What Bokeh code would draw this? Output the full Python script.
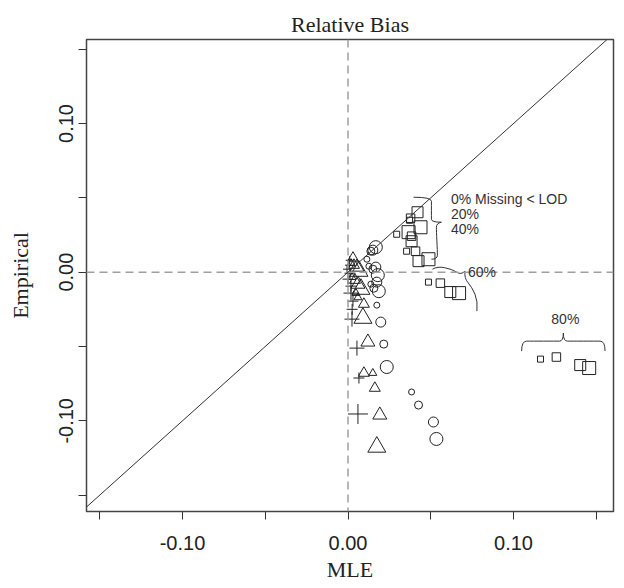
from bokeh.plotting import figure
from bokeh.models import FixedTicker, Span, Slope, Label, ColumnDataSource
from bokeh.embed import file_html
from bokeh.resources import INLINE

# ---------------- data ----------------
title_text = "Relative Bias"
x_label = "MLE"
y_label = "Empirical"

tick_values = [-0.15, -0.10, -0.05, 0.0, 0.05, 0.10, 0.15]
tick_labels = ["", "-0.10", "", "0.00", "", "0.10", ""]

# size class n = 1..4 (smallest .. largest)
sq_x = [0.0372, 0.0378, 0.0420, 0.0438, 0.0294, 0.0384, 0.0384, 0.0366,
        0.0354, 0.0408, 0.0426, 0.0486, 0.0486, 0.0558, 0.0618, 0.0671,
        0.1163, 0.1259, 0.1403, 0.1457]
sq_y = [0.0349, 0.0363, 0.0403, 0.0302, 0.0255, 0.0242, 0.0208, 0.0269,
        0.0141, 0.0141, 0.0074, 0.0087, -0.0067, -0.0074, -0.0134, -0.0141,
        -0.0585, -0.0571, -0.0625, -0.0645]
sq_n = [1, 2, 3, 4] * 5

ci_x = [0.0114, 0.0138, 0.0150, 0.0168, 0.0126, 0.0150, 0.0168, 0.0180,
        0.0138, 0.0156, 0.0174, 0.0186, 0.0174, 0.0216, 0.0198, 0.0234,
        0.0384, 0.0426, 0.0516, 0.0534]
ci_y = [0.0087, 0.0141, 0.0148, 0.0168, 0.0040, 0.0020, 0.0034, -0.0020,
        -0.0081, -0.0108, -0.0067, -0.0128, -0.0222, -0.0484, -0.0336, -0.0638,
        -0.0806, -0.0894, -0.1008, -0.1122]
ci_n = [1, 2, 3, 4] * 5

tr_x = [0.0018, 0.0036, 0.0054, 0.0066, 0.0024, 0.0042, 0.0060, 0.0078,
        0.0048, 0.0096, 0.0090, 0.0120, 0.0150, 0.0096, 0.0162, 0.0192, 0.0174,
        0.0030, 0.0060]
tr_y = [0.0060, 0.0047, 0.0034, 0.0007, -0.0034, -0.0054, -0.0081, -0.0114,
        -0.0141, -0.0215, -0.0309, -0.0470, -0.0679, -0.0679, -0.0780, -0.0961, -0.1176,
        0.0095, -0.0170]
tr_n = [1, 2, 3, 4, 1, 2, 3, 4, 1, 2, 4, 3, 1, 2, 2, 3, 4, 2, 1]

cr_x = [-0.0006, 0.0006, 0.0012, 0.0000, 0.0018, 0.0018, 0.0030, 0.0024,
        0.0054, 0.0066, 0.0060, 0.0010, 0.0025]
cr_y = [0.0020, 0.0047, -0.0007, -0.0047, -0.0094, -0.0141, -0.0195, -0.0316,
        -0.0511, -0.0712, -0.0954, 0.0080, -0.0250]
cr_n = [1, 1, 2, 2, 2, 3, 2, 3, 3, 2, 4, 1, 2]

# annotation text
group_labels = ["0% Missing < LOD", "20%", "40%"]
group_label_y = [0.0495, 0.0388, 0.0287]
group_label_x = 0.0622
label_60 = "60%"
label_60_pos = (0.0725, 0.0003)
label_80 = "80%"
label_80_pos = (0.1313, -0.0316)

# brace paths (start, control points..., end), data units
braces = [
    [(0.0396, 0.0504), (0.0504, 0.0504), (0.0504, 0.0450), (0.0504, 0.0376),
     (0.0504, 0.0336), (0.0564, 0.0336)],
    [(0.0564, 0.0336), (0.0534, 0.0329), (0.0534, 0.0276), (0.0540, 0.0141),
     (0.0540, 0.0087), (0.0504, 0.0087)],
    [(0.0510, 0.0020), (0.0540, 0.0040), (0.0629, 0.0020), (0.0683, -0.0020),
     (0.0707, 0.0007)],
    [(0.0707, 0.0007), (0.0701, -0.0040), (0.0749, -0.0101), (0.0785, -0.0195),
     (0.0779, -0.0262)],
    [(0.1049, -0.0531), (0.1049, -0.0464), (0.1109, -0.0464), (0.1253, -0.0464),
     (0.1301, -0.0464), (0.1301, -0.0410)],
    [(0.1301, -0.0410), (0.1301, -0.0464), (0.1349, -0.0464), (0.1493, -0.0464),
     (0.1553, -0.0464), (0.1553, -0.0531)],
]

# ---------------- styling ----------------
SIZES = {
    "square": [6, 8.5, 11, 13],
    "circle": [6, 8, 10, 13],
    "triangle": [8, 11, 14, 18],
    "cross": [8, 11, 15, 20],
}
INK = "#222222"
SERIF = "Liberation Serif"
SANS = "Liberation Sans"

p = figure(width=620, height=587, output_backend="svg", toolbar_location=None,
           x_range=(-0.158, 0.1604), y_range=(-0.161, 0.1565),
           min_border_left=86, min_border_right=7, min_border_top=39,
           min_border_bottom=76)
p.background_fill_color = "white"
p.border_fill_color = "white"
p.grid.visible = False
p.outline_line_color = "#444444"
p.outline_line_width = 1.5

p.title.text = title_text
p.title.align = "center"
p.title.text_font = SERIF
p.title.text_font_size = "22px"
p.title.text_font_style = "normal"
p.title.text_color = INK
p.title.standoff = 6

for ax in (p.xaxis[0], p.yaxis[0]):
    ax.ticker = FixedTicker(ticks=tick_values)
    ax.major_label_overrides = {v: s for v, s in zip(tick_values, tick_labels)}
    ax.minor_tick_line_color = None
    ax.major_tick_in = 0
    ax.major_tick_out = 8
    ax.major_tick_line_color = "#333333"
    ax.axis_line_color = None
    ax.major_label_text_font = SANS
    ax.major_label_text_font_size = "20px"
    ax.major_label_text_color = INK
    ax.axis_label_text_font = SERIF
    ax.axis_label_text_font_size = "22px"
    ax.axis_label_text_font_style = "normal"
    ax.axis_label_text_color = INK

p.xaxis.axis_label = x_label
p.yaxis.axis_label = y_label
p.yaxis.major_label_orientation = "vertical"
p.xaxis.major_label_standoff = 16
p.xaxis.axis_label_standoff = 4
p.yaxis.major_label_standoff = 5
p.yaxis.axis_label_standoff = 24

# reference lines
p.add_layout(Span(location=0, dimension="height", line_color="#a0a0a0",
                  line_dash="8 5", line_width=1.5))
p.add_layout(Span(location=0, dimension="width", line_color="#a0a0a0",
                  line_dash="8 5", line_width=1.5))
p.add_layout(Slope(gradient=1, y_intercept=0, line_color="#333333", line_width=1))

# markers
def add_series(xs, ys, ns, marker):
    src = ColumnDataSource(dict(x=xs, y=ys, s=[SIZES[marker][n - 1] for n in ns]))
    p.scatter("x", "y", source=src, marker=marker, size="s", fill_color=None,
              line_color=INK, line_width=1)

add_series(sq_x, sq_y, sq_n, "square")
add_series(ci_x, ci_y, ci_n, "circle")
add_series(tr_x, tr_y, tr_n, "triangle")
add_series(cr_x, cr_y, cr_n, "cross")

# braces as chains of quadratic curves
def quad_chain(pts):
    s, *c, e = pts
    anchors = [s] + [((c[i][0] + c[i + 1][0]) / 2, (c[i][1] + c[i + 1][1]) / 2)
                     for i in range(len(c) - 1)] + [e]
    return [(anchors[i], anchors[i + 1], c[i]) for i in range(len(c))]

segs = [seg for b in braces for seg in quad_chain(b)]
bsrc = ColumnDataSource(dict(
    x0=[a[0] for a, b, c in segs], y0=[a[1] for a, b, c in segs],
    x1=[b[0] for a, b, c in segs], y1=[b[1] for a, b, c in segs],
    cx=[c[0] for a, b, c in segs], cy=[c[1] for a, b, c in segs]))
p.quadratic(x0="x0", y0="y0", x1="x1", y1="y1", cx="cx", cy="cy", source=bsrc,
            line_color="#333333", line_width=1)

# labels
for t, yy in zip(group_labels, group_label_y):
    p.add_layout(Label(x=group_label_x, y=yy, text=t, text_font=SANS,
                       text_font_size="14px", text_color="#333333",
                       text_baseline="middle", text_align="left"))
p.add_layout(Label(x=label_60_pos[0], y=label_60_pos[1], text=label_60,
                   text_font=SANS, text_font_size="14px", text_color="#333333",
                   text_baseline="middle", text_align="left"))
p.add_layout(Label(x=label_80_pos[0], y=label_80_pos[1], text=label_80,
                   text_font=SANS, text_font_size="14px", text_color="#333333",
                   text_baseline="middle", text_align="center"))

open("out.html", "w").write(file_html(p, INLINE))
